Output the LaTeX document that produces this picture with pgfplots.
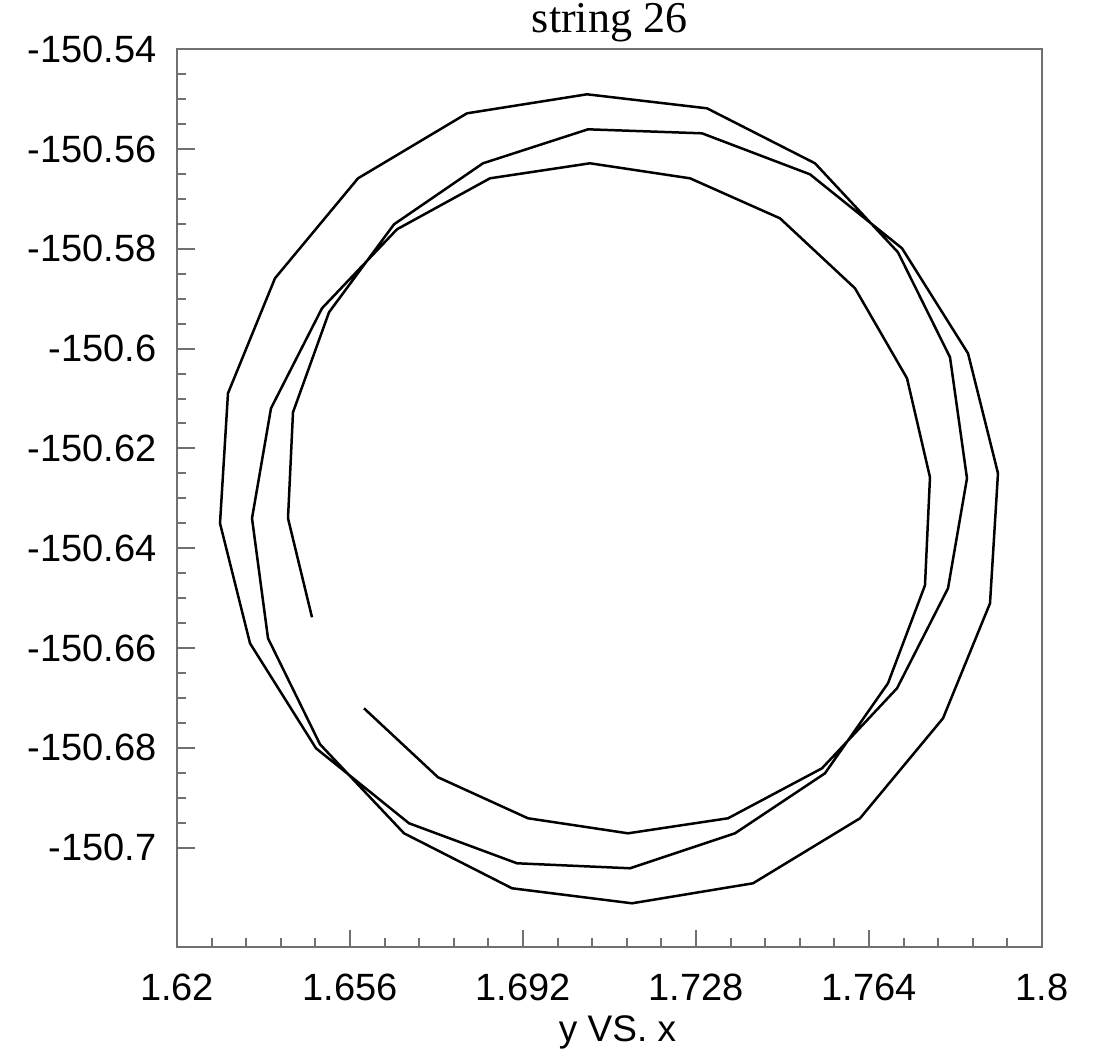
\documentclass[border=0pt]{standalone}
\usepackage{fontspec}
\setmainfont{Liberation Sans}
\newfontfamily\titlefont{Liberation Serif}
\usepackage{pgfplots}
\pgfplotsset{compat=1.18}
\usepackage{pgfplotstable}

\definecolor{axisgray}{RGB}{112,112,112}

% trajectory of the string point, traced in order
\pgfplotstableread{
x        y
1.64809  -150.65385
1.64310  -150.63401
1.64414  -150.61276
1.65163  -150.59272
1.66516  -150.57508
1.68368  -150.56285
1.70553  -150.55604
1.72925  -150.55684
1.75172  -150.56506
1.77087  -150.57989
1.78460  -150.60094
1.79084  -150.62499
1.78918  -150.65105
1.77940  -150.67410
1.76213  -150.69414
1.73986  -150.70717
1.71468  -150.71118
1.68971  -150.70817
1.66724  -150.69715
1.64976  -150.67931
1.63894  -150.65806
1.63561  -150.63401
1.63956  -150.61196
1.65017  -150.59192
1.66578  -150.57608
1.68513  -150.56586
1.70594  -150.56285
1.72675  -150.56586
1.74548  -150.57388
1.76109  -150.58791
1.77191  -150.60595
1.77669  -150.62579
1.77565  -150.64744
1.76795  -150.66708
1.75484  -150.68512
1.73612  -150.69715
1.71427  -150.70416
1.69075  -150.70316
1.66828  -150.69514
1.64893  -150.68011
1.63519  -150.65906
1.62895  -150.63501
1.63061  -150.60895
1.64039  -150.58590
1.65767  -150.56586
1.68035  -150.55283
1.70532  -150.54902
1.73029  -150.55183
1.75276  -150.56285
1.77003  -150.58069
1.78086  -150.60174
1.78439  -150.62599
1.78044  -150.64804
1.76983  -150.66808
1.75422  -150.68412
1.73466  -150.69414
1.71385  -150.69715
1.69304  -150.69414
1.67431  -150.68592
1.65891  -150.67209
}\stringpath

\begin{document}
\begin{tikzpicture}
\useasboundingbox (-88.5pt,-53.35pt) rectangle (460pt,473.65pt);
\begin{axis}[
  at={(0,0)}, anchor=south west,
  scale only axis,
  width=432.5pt, height=449pt,
  xmin=1.62, xmax=1.8,
  ymin=-150.72, ymax=-150.54,
  xtick={1.62,1.656,1.692,1.728,1.764,1.8},
  xticklabels={1.62,1.656,1.692,1.728,1.764,1.8},
  ytick={-150.54,-150.56,-150.58,-150.6,-150.62,-150.64,-150.66,-150.68,-150.7},
  yticklabels={-150.54,-150.56,-150.58,-150.6,-150.62,-150.64,-150.66,-150.68,-150.7},
  minor x tick num=4,
  minor y tick num=3,
  tick pos=left,
  tick align=inside,
  major tick length=8.8pt,
  minor tick length=4.6pt,
  axis line style={draw=axisgray, line width=1pt},
  every tick/.style={draw=axisgray, line width=1pt},
  tick label style={font=\fontsize{19}{22}\selectfont, inner sep=0pt},
  yticklabel shift=10pt,
  xticklabel shift=13pt,
  title={\titlefont string 26},
  title style={font=\fontsize{22}{26}\selectfont, at={(axis description cs:0.5,1)}, anchor=base, yshift=2.5pt},
  xlabel={y VS. x},
  xlabel style={font=\fontsize{18.5}{22}\selectfont, at={(axis description cs:0.5,0)}, anchor=base, yshift=-47pt, xshift=4pt},
]
\addplot[black, line width=1.25pt, no markers] table[x=x, y=y] {\stringpath};
\end{axis}
\end{tikzpicture}
\end{document}
